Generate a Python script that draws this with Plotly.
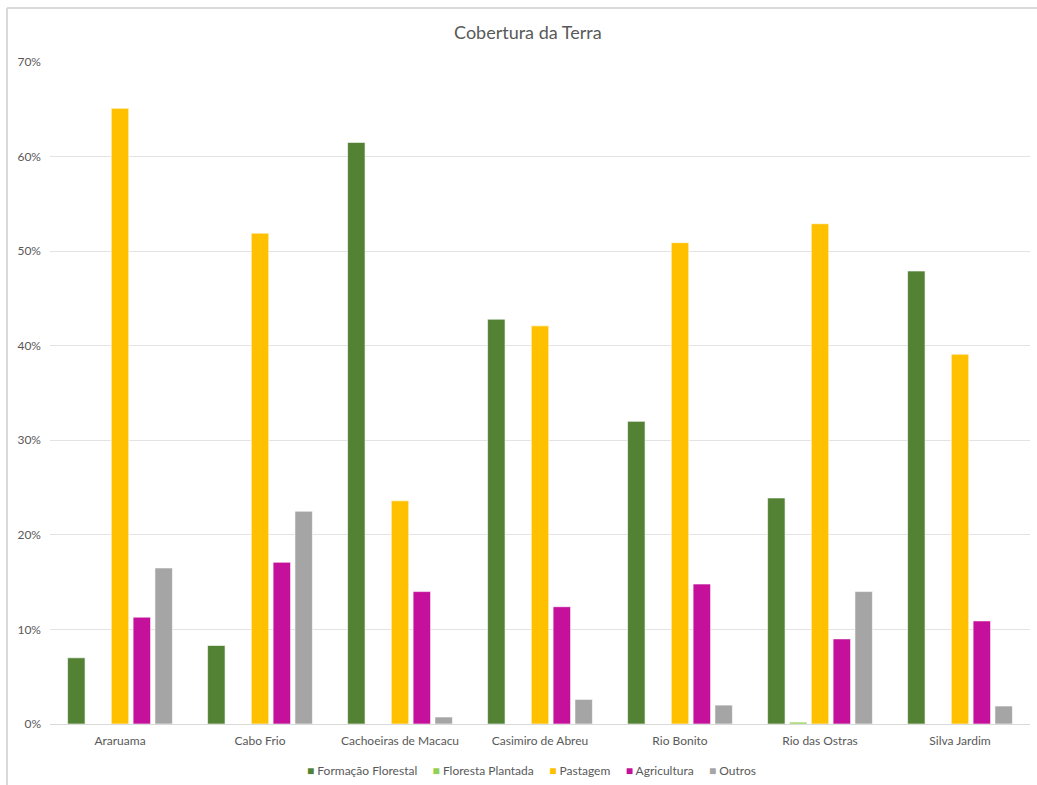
import plotly.graph_objects as go

categories = ["Araruama", "Cabo Frio", "Cachoeiras de Macacu", "Casimiro de Abreu",
              "Rio Bonito", "Rio das Ostras", "Silva Jardim"]
formacao_florestal = [0.070, 0.083, 0.615, 0.428, 0.320, 0.239, 0.479]
floresta_plantada = [0.0, 0.0, 0.0, 0.0, 0.0, 0.002, 0.0]
pastagem = [0.651, 0.519, 0.236, 0.421, 0.509, 0.529, 0.391]
agricultura = [0.113, 0.171, 0.140, 0.124, 0.148, 0.090, 0.109]
outros = [0.165, 0.225, 0.0074, 0.026, 0.020, 0.140, 0.019]

series = [
    ("Formação Florestal", formacao_florestal, "#548235"),
    ("Floresta Plantada", floresta_plantada, "#92D050"),
    ("Pastagem", pastagem, "#FFC000"),
    ("Agricultura", agricultura, "#C4109A"),
    ("Outros", outros, "#A5A5A5"),
]

fig = go.Figure()
for name, vals, color in series:
    fig.add_trace(go.Bar(
        x=categories, y=vals, name=name, showlegend=False,
        marker=dict(color=color, line=dict(color="rgba(255,255,255,0.6)", width=1)),
    ))

W, H = 1037, 785
L, R, T, B = 50, 7, 62, 61
pw, ph = W - L - R, H - T - B

def px(x):
    return (x - L) / pw

def py(y):
    return (H - B - y) / ph

legend_text = "&nbsp;&nbsp;&nbsp;&nbsp;&nbsp;".join(
    f"<span style='color:{c}'>■</span>&nbsp;{n}" for n, _, c in series
)

fig.update_layout(
    width=W, height=H,
    margin=dict(l=L, r=R, t=T, b=B, pad=0, autoexpand=False),
    paper_bgcolor="white", plot_bgcolor="white",
    font=dict(family="Lato, 'Open Sans', sans-serif", color="#595959", size=12),
    title=dict(text="Cobertura da Terra", x=0.509, xanchor="center",
               y=1 - 33 / H, yanchor="middle", yref="container",
               font=dict(size=18, color="#595959")),
    barmode="group", bargap=0.22, bargroupgap=0.2,
    showlegend=False,
    xaxis=dict(showgrid=False, showline=True, linecolor="#D9D9D9", linewidth=1,
               ticks="", tickfont=dict(size=12, color="#595959"), automargin=False,
               ticklabelstandoff=6),
    yaxis=dict(range=[0, 0.7], dtick=0.1, tickformat=".0%", showgrid=True,
               gridcolor="#E3E3E3", gridwidth=1, zeroline=False, showline=False,
               ticks="", tickfont=dict(size=12, color="#595959"), ticklabelstandoff=8,
               automargin=False),
    annotations=[
        dict(text=legend_text, xref="paper", yref="paper", x=px(531), y=py(770),
             xanchor="center", yanchor="middle", showarrow=False,
             font=dict(size=12, color="#595959")),
    ],
    shapes=[
        dict(type="line", xref="paper", yref="paper", x0=px(7), x1=px(1040), y0=py(8), y1=py(8),
             line=dict(color="#D9D9D9", width=2)),
        dict(type="line", xref="paper", yref="paper", x0=px(7), x1=px(7), y0=py(8), y1=py(790),
             line=dict(color="#D9D9D9", width=2)),
    ],
)

fig.write_html("out.html")
